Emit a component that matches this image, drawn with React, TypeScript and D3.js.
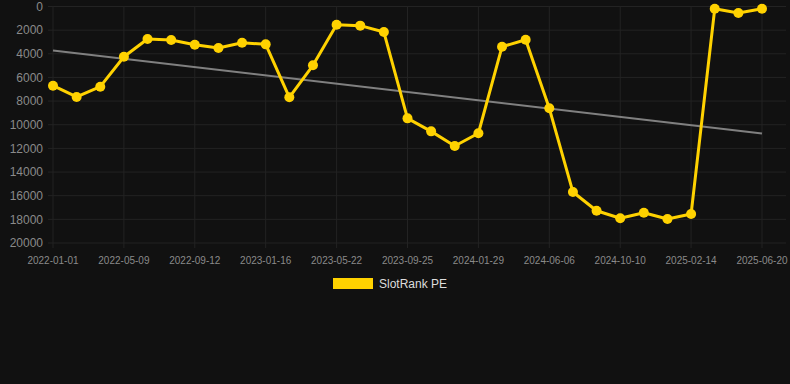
import React from "react";
import * as d3 from "d3";

const categories = [
  "2022-01-01", "2022-02-12", "2022-03-26", "2022-05-09", "2022-06-20", "2022-08-01",
  "2022-09-12", "2022-10-24", "2022-12-05", "2023-01-16", "2023-02-27", "2023-04-10",
  "2023-05-22", "2023-07-03", "2023-08-14", "2023-09-25", "2023-11-06", "2023-12-18",
  "2024-01-29", "2024-03-11", "2024-04-22", "2024-06-06", "2024-07-18", "2024-08-29",
  "2024-10-10", "2024-11-21", "2025-01-02", "2025-02-14", "2025-03-28", "2025-05-09",
  "2025-06-20",
];

const seriesValues = [
  6700, 7650, 6780, 4250, 2750, 2830, 3230, 3510, 3060, 3200, 7680, 4970,
  1540, 1620, 2160, 9460, 10560, 11800, 10720, 3400, 2810, 8610, 15690, 17270,
  17910, 17440, 17970, 17550, 190, 550, 190,
];

const yTicks = [0, 2000, 4000, 6000, 8000, 10000, 12000, 14000, 16000, 18000, 20000];
const seriesName = "SlotRank PE";

const W = 790;
const H = 384;
const FONT = "'Liberation Sans', Arial, Helvetica, sans-serif";

export default function App() {
  const x = d3.scalePoint<string>().domain(categories).range([53, 762]);
  const y = d3.scaleLinear().domain([0, 20000]).range([6.5, 243]);

  const n = seriesValues.length;
  const idx = d3.range(n);
  const mx = d3.mean(idx)!;
  const my = d3.mean(seriesValues)!;
  const slope =
    d3.sum(idx, (i) => (i - mx) * (seriesValues[i] - my)) /
    d3.sum(idx, (i) => (i - mx) * (i - mx));
  const intercept = my - slope * mx;

  const line = d3
    .line<number>()
    .x((_, i) => x(categories[i])!)
    .y((v) => y(v));

  const tickCats = categories.filter((_, i) => i % 3 === 0);

  return (
    <svg
      width={W}
      height={H}
      style={{ position: "absolute", left: 0, top: 0, background: "#111111" }}
    >
      <rect x={0} y={0} width={W} height={H} fill="#111111" />
      {yTicks.map((t) => (
        <g key={t}>
          <line x1={48} x2={786} y1={y(t)} y2={y(t)} stroke="#232323" strokeWidth={1} />
          <text
            x={43}
            y={y(t)}
            dy="0.35em"
            textAnchor="end"
            fill="#8a8a8a"
            fontSize={12}
            fontFamily={FONT}
          >
            {t}
          </text>
        </g>
      ))}
      {tickCats.map((c) => (
        <g key={c}>
          <line x1={x(c)!} x2={x(c)!} y1={6.5} y2={248} stroke="#232323" strokeWidth={1} />
          <text
            x={x(c)!}
            y={260}
            dy="0.35em"
            textAnchor="middle"
            fill="#8a8a8a"
            fontSize={10}
            fontFamily={FONT}
          >
            {c}
          </text>
        </g>
      ))}
      <line
        x1={x(categories[0])!}
        x2={x(categories[n - 1])!}
        y1={y(intercept)}
        y2={y(intercept + slope * (n - 1))}
        stroke="#808080"
        strokeWidth={2}
      />
      <path
        d={line(seriesValues)!}
        fill="none"
        stroke="#FFD200"
        strokeWidth={3}
        strokeLinejoin="round"
      />
      {seriesValues.map((v, i) => (
        <circle key={i} cx={x(categories[i])!} cy={y(v)} r={5} fill="#FFD200" />
      ))}
      <rect x={333} y={278} width={40} height={11} fill="#FFD200" />
      <text x={379} y={284} dy="0.35em" fill="#dddddd" fontSize={12} fontFamily={FONT}>
        {seriesName}
      </text>
    </svg>
  );
}
